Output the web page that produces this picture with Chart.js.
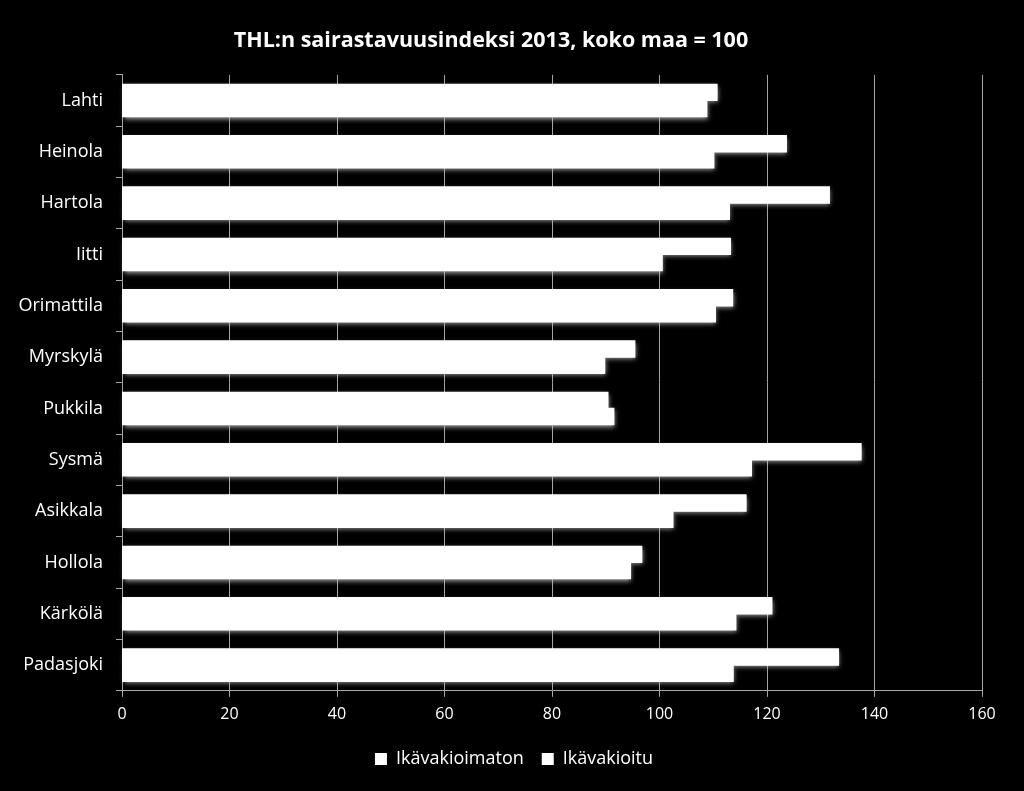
<!DOCTYPE html>
<html>
<head>
<meta charset="utf-8">
<title>THL:n sairastavuusindeksi 2013</title>
<script src="https://cdn.jsdelivr.net/npm/chart.js@4/dist/chart.umd.min.js"></script>
<style>
  body { margin: 0; background: #000; }
  #wrap { width: 1024px; height: 791px; }
</style>
</head>
<body>
<div id="wrap"><canvas id="chart"></canvas></div>
<script>
// Municipalities, top to bottom as in the picture
const kunnat = ['Lahti', 'Heinola', 'Hartola', 'Iitti', 'Orimattila', 'Myrskylä',
  'Pukkila', 'Sysmä', 'Asikkala', 'Hollola', 'Kärkölä', 'Padasjoki'];

// Index values
const ikavakioimaton = [110.7, 123.6, 131.6, 113.2, 113.6, 95.4, 90.4, 137.5, 116.1, 96.7, 120.9, 133.3];
const ikavakioitu = [108.8, 110.1, 113.0, 100.5, 110.4, 89.8, 91.5, 117.1, 102.5, 94.6, 114.2, 113.7];

const xTicks = [0, 20, 40, 60, 80, 100, 120, 140, 160];

const fontFamily = '"Open Sans", "Noto Sans", sans-serif';

// soft glow round the bars: draw all bars once with a shadow,
// then the normal pass paints the bars on top without it
const barGlow = {
  id: 'barGlow',
  afterLayout(chart) {
    // legend sits a bit right of the centre in the original
    if (chart.legend) {
      chart.legend.left += 23;
      chart.legend.right += 23;
    }
  },
  beforeDatasetsDraw(chart) {
    const ctx = chart.ctx;
    ctx.save();
    ctx.shadowColor = 'rgba(190, 190, 190, 0.9)';
    ctx.shadowBlur = 5;
    ctx.shadowOffsetX = 1;
    ctx.shadowOffsetY = 2;
    ctx.fillStyle = '#ffffff';
    chart.data.datasets.forEach((ds, i) => {
      chart.getDatasetMeta(i).data.forEach(bar => {
        const p = bar.getProps(['x', 'y', 'base', 'height'], true);
        ctx.fillRect(p.base, p.y - p.height / 2, p.x - p.base, p.height);
      });
    });
    ctx.restore();
  }
};

const ctx = document.getElementById('chart');

new Chart(ctx, {
  type: 'bar',
  data: {
    labels: kunnat,
    datasets: [
      {
        label: 'Ikävakioimaton',
        data: ikavakioimaton,
        backgroundColor: '#ffffff',
        borderWidth: 0
      },
      {
        label: 'Ikävakioitu',
        data: ikavakioitu,
        backgroundColor: '#ffffff',
        borderWidth: 0
      }
    ]
  },
  options: {
    indexAxis: 'y',
    responsive: true,
    maintainAspectRatio: false,
    animation: false,
    datasets: {
      bar: {
        categoryPercentage: 0.63,
        barPercentage: 1.0,
        inflateAmount: 0.6
      }
    },
    layout: {
      padding: { left: 0, right: 42, top: 18, bottom: 13 }
    },
    plugins: {
      title: {
        display: true,
        text: 'THL:n sairastavuusindeksi 2013, koko maa = 100',
        color: '#ffffff',
        font: { family: fontFamily, size: 21.5, weight: 'bold' },
        padding: { top: 10, bottom: 21 }
      },
      legend: {
        position: 'bottom',
        labels: {
          color: '#ffffff',
          font: { family: fontFamily, size: 18 },
          boxWidth: 12,
          boxHeight: 12,
          padding: 18
        }
      },
      tooltip: { enabled: false }
    },
    scales: {
      x: {
        min: 0,
        max: 160,
        afterBuildTicks(axis) {
          axis.ticks = xTicks.map(v => ({ value: v }));
        },
        grid: {
          color: '#a6a6a6',
          lineWidth: 1,
          tickLength: 6
        },
        border: { color: '#a6a6a6' },
        ticks: {
          color: '#ffffff',
          font: { family: fontFamily, size: 16 },
          padding: 8
        }
      },
      y: {
        afterFit(scale) {
          scale.width = 122;
        },
        grid: {
          drawOnChartArea: false,
          color: '#a6a6a6',
          tickLength: 6,
          offset: true
        },
        border: { color: '#a6a6a6' },
        ticks: {
          color: '#ffffff',
          font: { family: fontFamily, size: 18 },
          padding: 13
        }
      }
    }
  },
  plugins: [barGlow]
});
</script>
</body>
</html>
